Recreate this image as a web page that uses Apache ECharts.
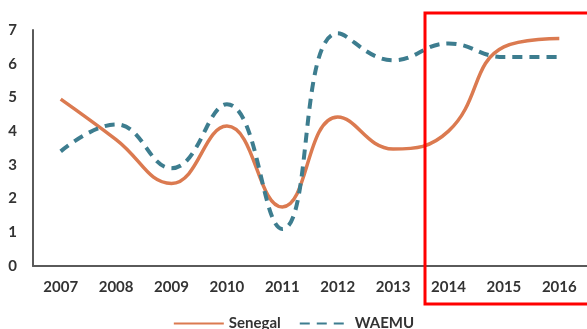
<!DOCTYPE html>
<html>
<head>
<meta charset="utf-8">
<script src="https://cdn.jsdelivr.net/npm/echarts@6/dist/echarts.min.js"></script>
<style>
  html, body { margin: 0; padding: 0; background: #ffffff; }
  #chart { width: 587px; height: 329px; }
</style>
</head>
<body>
<div id="chart"></div>
<script>
// Growth rates, Senegal vs WAEMU average
const years = ['2007', '2008', '2009', '2010', '2011', '2012', '2013', '2014', '2015', '2016'];
const senegal = [4.95, 3.75, 2.45, 4.15, 1.75, 4.42, 3.47, 4.0, 6.5, 6.75];
const waemu = [3.4, 4.2, 2.9, 4.8, 1.1, 6.9, 6.1, 6.6, 6.2, 6.2];
const yTicks = [0, 1, 2, 3, 4, 5, 6, 7];

const chart = echarts.init(document.getElementById('chart'));

const labelFont = {
  color: '#333333',
  fontFamily: 'Lato',
  fontWeight: 'bold',
  fontSize: 15
};

chart.setOption({
  backgroundColor: '#ffffff',
  animation: false,
  grid: { left: 33, top: 30, bottom: 63, width: 562, containLabel: false },
  xAxis: {
    type: 'category',
    data: years,
    boundaryGap: true,
    axisTick: { show: false },
    axisLine: { lineStyle: { color: '#5a5a5a', width: 2 } },
    axisLabel: Object.assign({ margin: 14 }, labelFont)
  },
  yAxis: {
    type: 'value',
    min: yTicks[0],
    max: yTicks[yTicks.length - 1],
    interval: 1,
    splitLine: { show: false },
    axisTick: { show: false },
    axisLine: { show: true, lineStyle: { color: '#5a5a5a', width: 2 } },
    axisLabel: Object.assign({ margin: 16 }, labelFont)
  },
  legend: {
    bottom: -7,
    left: 'center',
    itemWidth: 50,
    itemHeight: 12,
    itemGap: 18,
    itemStyle: { opacity: 0 },
    textStyle: labelFont,
    data: ['Senegal', 'WAEMU']
  },
  series: [
    {
      name: 'Senegal',
      type: 'line',
      data: senegal,
      smooth: 0.45,
      symbol: 'none',
      color: '#db7a50',
      lineStyle: { color: '#db7a50', width: 3.5 }
    },
    {
      name: 'WAEMU',
      type: 'line',
      data: waemu,
      smooth: 0.45,
      symbol: 'none',
      color: '#3d7d8f',
      lineStyle: { color: '#3d7d8f', width: 4, type: [10, 7] }
    }
  ],
  graphic: [
    {
      type: 'rect',
      shape: { x: 425, y: 13, width: 180, height: 291 },
      style: { fill: 'none', stroke: '#ff0000', lineWidth: 3 },
      z: 100
    }
  ]
});
</script>
</body>
</html>
